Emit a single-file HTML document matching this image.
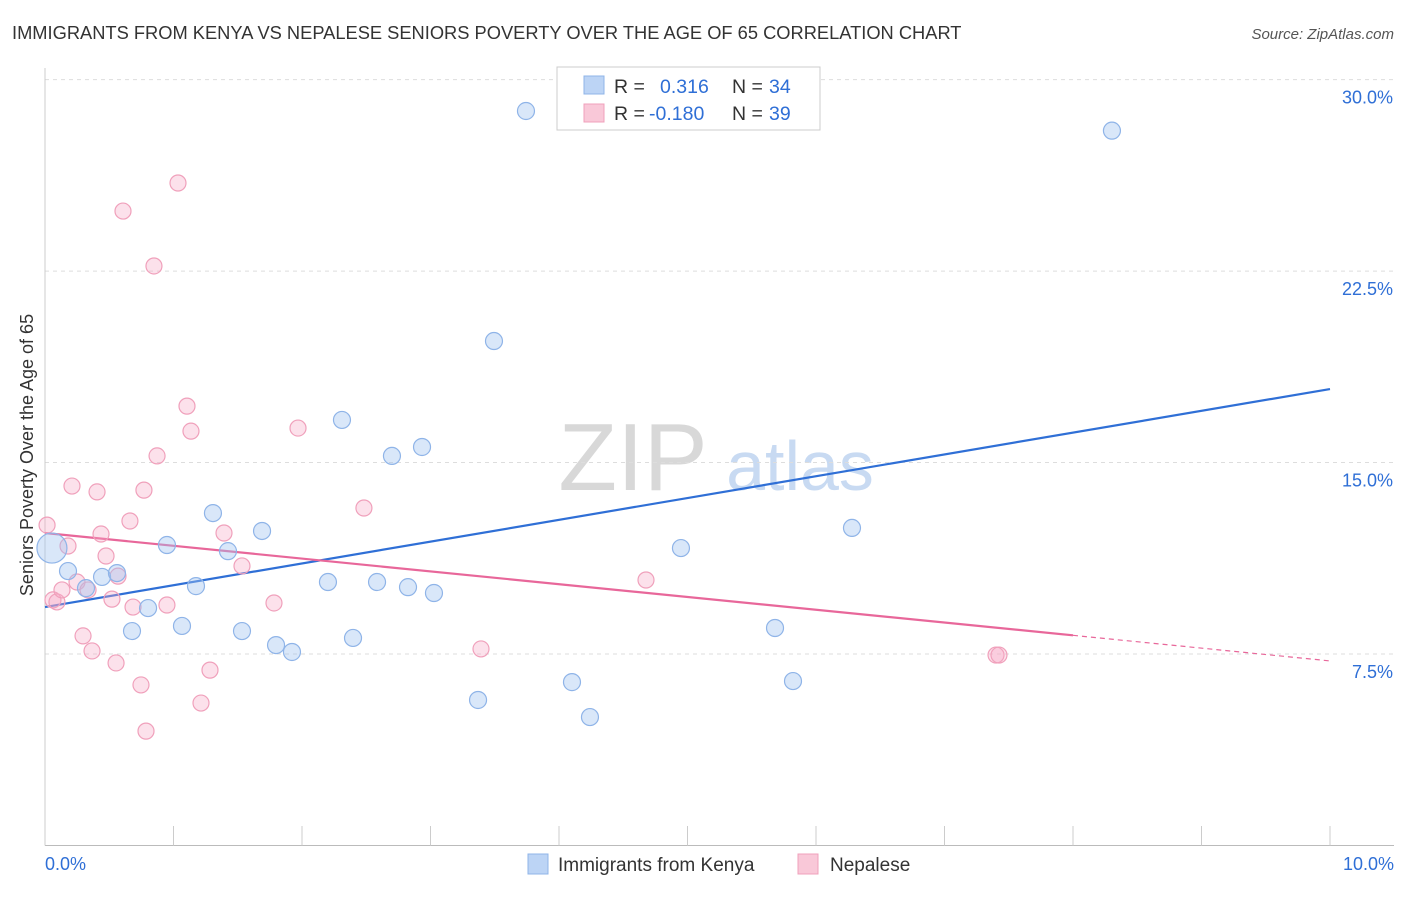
<!DOCTYPE html>
<html><head><meta charset="utf-8"><style>
body{margin:0;background:#fff;font-family:"Liberation Sans",sans-serif;}
svg text{font-family:"Liberation Sans",sans-serif;}
</style></head><body>
<svg id="chart" width="1406" height="892" xmlns="http://www.w3.org/2000/svg">
<text x="12" y="39" font-size="18.3" fill="#333">IMMIGRANTS FROM KENYA VS NEPALESE SENIORS POVERTY OVER THE AGE OF 65 CORRELATION CHART</text>
<text x="1394" y="39" font-size="15" fill="#555" font-style="italic" text-anchor="end">Source: ZipAtlas.com</text>
<text transform="translate(33,455) rotate(-90)" font-size="18" fill="#333" text-anchor="middle">Seniors Poverty Over the Age of 65</text>
<g id="watermark">
<text x="633" y="490" font-size="96" fill="#d8d8d8" font-family="Liberation Serif" text-anchor="middle">ZIP</text>
<text x="800" y="490" font-size="70" fill="#c8daf2" text-anchor="middle">atlas</text>
</g>
<g id="grid"></g><g id="axes"></g><g id="lines"></g><g id="points"></g>
<g>
<rect x="557" y="67" width="263" height="63" fill="#fff" stroke="#ccc"/>
<rect x="584" y="76" width="20" height="18" fill="#bcd4f5" stroke="#8fb4e8"/>
<rect x="584" y="104" width="20" height="18" fill="#f9c8d8" stroke="#f0a0bb"/>
<text x="614" y="93" font-size="19.5" fill="#333">R = <tspan x="660" fill="#2f6fd6">0.316</tspan><tspan x="732">N = </tspan><tspan x="769" fill="#2f6fd6">34</tspan></text>
<text x="614" y="120" font-size="19.5" fill="#333">R = <tspan x="649" fill="#2f6fd6">-0.180</tspan><tspan x="732">N = </tspan><tspan x="769" fill="#2f6fd6">39</tspan></text>
</g>
<g>
<rect x="528" y="854" width="20" height="20" fill="#bcd4f5" stroke="#8fb4e8"/>
<text x="558" y="871" font-size="19" fill="#333">Immigrants from Kenya</text>
<rect x="798" y="854" width="20" height="20" fill="#f9c8d8" stroke="#f0a0bb"/>
<text x="830" y="871" font-size="19" fill="#333">Nepalese</text>
</g>
</svg>
<script>
const xTicks=[0,1,2,3,4,5,6,7,8,9,10];
const yTicks=[7.5,15,22.5,30];
const yTickLabels=["7.5%","15.0%","22.5%","30.0%"];
const kenyaX=[0.054,0.179,0.319,0.444,0.56,0.677,0.802,0.949,1.066,1.175,1.307,1.424,1.533,1.689,1.798,1.922,2.202,2.311,2.397,2.584,2.7,2.825,2.934,3.027,3.37,3.494,3.743,4.101,4.241,4.949,5.681,5.821,6.28,8.303];
const kenyaY=[11.65,10.75,10.08,10.52,10.67,8.4,9.3,11.77,8.6,10.16,13.02,11.53,8.4,12.32,7.85,7.58,10.32,16.67,8.13,10.32,15.26,10.12,15.61,9.89,5.7,19.76,28.77,6.4,5.03,11.65,8.52,6.44,12.44,28.0];
const nepalX=[0.016,0.062,0.093,0.132,0.179,0.21,0.249,0.296,0.366,0.405,0.436,0.475,0.521,0.553,0.568,0.607,0.661,0.685,0.747,0.77,0.786,0.848,0.872,0.949,1.035,1.105,1.136,1.214,1.284,1.393,1.533,1.782,1.969,2.482,3.393,4.677,7.401,7.424,0.335];
const nepalY=[12.55,9.62,9.54,10.01,11.73,14.08,10.32,8.21,7.62,13.85,12.2,11.34,9.65,7.15,10.55,24.85,12.71,9.34,6.29,13.92,4.48,22.7,15.26,9.42,25.95,17.21,16.23,5.58,6.87,12.24,10.95,9.5,16.35,13.22,7.7,10.4,7.46,7.46,10.01];
const kenyaTrend=[9.34,17.88];
const nepalTrend=[12.24,7.23];
const nepalSolidEnd=8.0;

const NS="http://www.w3.org/2000/svg";
const xs=v=>45+v*128.5;
const ys=v=>845.5-v*25.53;
function mk(tag,attrs,parent){const e=document.createElementNS(NS,tag);for(const k in attrs)e.setAttribute(k,attrs[k]);document.getElementById(parent).appendChild(e);return e;}

yTicks.forEach((t,i)=>{
  const g=mk('line',{x1:45,x2:1394,y1:ys(t),y2:ys(t),stroke:'#ddd','stroke-dasharray':'4,4'},'grid');
  
  
  const l=mk('text',{x:1393,y:ys(t)+24,'font-size':18,fill:'#2f6fd6','text-anchor':'end'},'axes');
  l.textContent=yTickLabels[i];
  
  
});
const xa=mk('line',{x1:45,x2:1394,y1:845.5,y2:845.5,stroke:'#bbb'},'axes');


const ya=mk('line',{x1:45,x2:45,y1:68,y2:845.5,stroke:'#ccc'},'axes');


xTicks.forEach(t=>{
  const tk=mk('line',{x1:xs(t),x2:xs(t),y1:826,y2:845.5,stroke:'#ccc'},'axes');
  
  
});
const x0=mk('text',{x:45,y:870,'font-size':18,fill:'#2f6fd6'},'axes');x0.textContent='0.0%';


const x1=mk('text',{x:1394,y:870,'font-size':18,fill:'#2f6fd6','text-anchor':'end'},'axes');x1.textContent='10.0%';



const bl=mk('line',{x1:xs(0),y1:ys(kenyaTrend[0]),x2:xs(10),y2:ys(kenyaTrend[1]),stroke:'#2f6fd6','stroke-width':2.2},'lines');


const pAt=x=>nepalTrend[0]+(nepalTrend[1]-nepalTrend[0])*x/10;
const pl=mk('line',{x1:xs(0),y1:ys(pAt(0)),x2:xs(nepalSolidEnd),y2:ys(pAt(nepalSolidEnd)),stroke:'#e8679a','stroke-width':2.2},'lines');


const pd=mk('line',{x1:xs(nepalSolidEnd),y1:ys(pAt(nepalSolidEnd)),x2:xs(10),y2:ys(pAt(10)),stroke:'#e8679a','stroke-width':1.2,'stroke-dasharray':'5,4'},'lines');



nepalX.forEach((x,i)=>{
  const c=mk('circle',{cx:xs(x),cy:ys(nepalY[i]),r:8,fill:'rgba(245,170,198,0.35)',stroke:'#f0a0bb','stroke-width':1.2},'points');
  
  
});
kenyaX.forEach((x,i)=>{
  const c=mk('circle',{cx:xs(x),cy:ys(kenyaY[i]),r:i===0?15:8.5,fill:'rgba(160,195,240,0.4)',stroke:'#8fb4e8','stroke-width':1.2},'points');
  
  
});
</script>
</body></html>
